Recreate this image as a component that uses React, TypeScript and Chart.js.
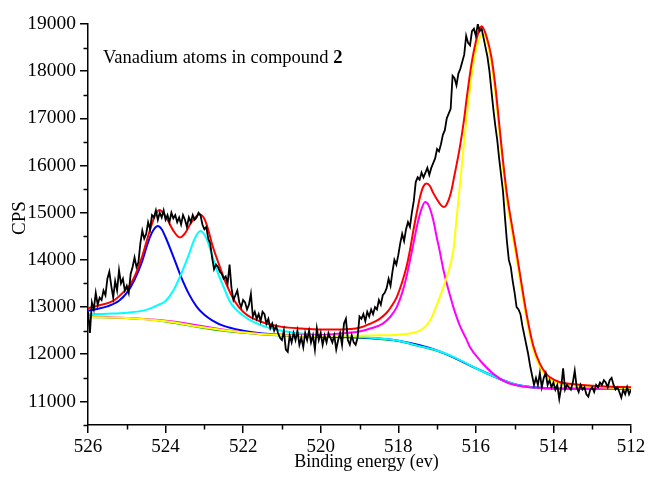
import React, { useEffect, useRef } from "react";
import { Chart, registerables } from "chart.js";

Chart.register(...registerables);

// ---------- axis ----------
const X_MIN = 512;
const X_MAX = 526;
const Y_MIN = 10500;
const Y_MAX = 19000;
const xMajorTicks = [526, 524, 522, 520, 518, 516, 514, 512];
const xMinorTicks = [525, 523, 521, 519, 517, 515, 513];
const yMajorTicks = [11000, 12000, 13000, 14000, 15000, 16000, 17000, 18000, 19000];
const yMinorTicks = [10500, 11500, 12500, 13500, 14500, 15500, 16500, 17500, 18500];
const xTitle = "Binding energy (ev)";
const yTitle = "CPS";
const noteText = "Vanadium atoms in compound ";
const noteBold = "2";

// ---------- measured spectrum (526.00 -> 512.00 eV, 0.05 eV steps) ----------
const measuredStart = 526;
const measuredStep = 0.05;
const measuredCps = [
  // 526.00 - 524.00
  12900, 12450, 13100, 12950, 13300, 13050, 13200, 13150, 13350, 13250,
  13600, 13750, 13450, 13200, 13550, 13350, 13780, 13500, 13600, 13350,
  13450, 13300, 13700, 13850, 14050, 13850, 13950, 14350, 14620, 14450,
  14550, 14800, 14650, 14950, 14900, 15050, 14850, 15000, 14900, 15050,
  14850,
  // 523.95 - 522.00
  14950, 14800, 15000, 14880, 14950, 14800, 14900, 14750, 14950, 14850,
  14700, 14900, 14800, 14950, 14850, 14900, 15000, 14950, 14750, 14650,
  14700, 14450, 14350, 14050, 13800, 13900, 13850, 13750, 13700, 13600,
  13650, 13500, 13900, 13400, 13150, 13250, 13350, 13100, 13000, 13150,
  // 521.95 - 520.00
  13100, 12950, 13050, 13280, 12800, 12900, 12750, 12850, 12700, 12900,
  12850, 12650, 12750, 12550, 12650, 12500, 12600, 12450, 12350, 12300,
  12500, 12100, 12050, 12400, 12250, 12450, 12300, 12500, 12200, 12350,
  12150, 12450, 12300, 12500, 12250, 12400, 12100, 12550, 12300, 12450,
  // 519.95 - 518.00
  12200, 12400, 12250, 12450, 12350, 12250, 12400, 12100, 12300, 12450,
  12200, 12650, 12750, 12300, 12200, 12400, 12250, 12200, 12350, 12800,
  12750, 12850, 12700, 12900, 12800, 12950, 12850, 13000, 12950, 13150,
  13050, 13250, 13300, 13400, 13600, 13450, 13750, 14000, 13900, 14100,
  // 517.95 - 516.00
  14350, 14550, 14400, 14650, 14800, 14700, 15000, 15250, 15650, 15750,
  15700, 15850, 15750, 15850, 15950, 15800, 15950, 16050, 16150, 16350,
  16300, 16450, 16650, 16750, 17000, 17100, 17200, 17900, 17850, 17700,
  17950, 18050, 18200, 18350, 18750, 18600, 18550, 18850, 18900, 18750,
  // 515.95 - 514.00
  19000, 18850, 18900, 18700, 18500, 18300, 18000, 17600, 17200, 16850,
  16550, 16150, 15800, 15450, 14900, 14400, 14000, 13850, 13550, 13300,
  13000, 12950, 12850, 12600, 12400, 12200, 12000, 11750, 11550, 11350,
  11500, 11350, 11600, 11300, 11500, 11600, 11350, 11450, 11300, 11400,
  // 513.95 - 512.00
  11250, 11350, 11050, 11300, 11700, 11250, 11350, 11300, 11250, 11400,
  11650, 11300, 11200, 11350, 11250, 11300, 11150, 11100, 11250, 11300,
  11200, 11350, 11300, 11400, 11350, 11450, 11400, 11300, 11450, 11500,
  11350, 11250, 11300, 11200, 11080, 11250, 11150, 11300, 11150, 11250,
];

// ---------- fitted envelope (red) ----------
const envelopeE = [
  526, 525.7, 525.35, 525.0, 524.9, 524.75, 524.6, 524.5, 524.35, 524.25,
  524.15, 524.05, 523.95, 523.8, 523.63, 523.5, 523.35, 523.2, 523.12, 523.0,
  522.9, 522.8, 522.6, 522.42, 522.2, 522.0, 521.8, 521.4, 521.0, 520.5,
  520.0, 519.5, 519.0, 518.73, 518.5, 518.3, 518.15, 518.04, 517.9, 517.79,
  517.7, 517.61, 517.5, 517.44, 517.35, 517.27, 517.18, 517.1, 517.0, 516.9,
  516.82, 516.75, 516.65, 516.55, 516.41, 516.3, 516.24, 516.15, 516.07, 515.95,
  515.85, 515.72, 515.6, 515.5, 515.4, 515.3, 515.2, 515.08, 514.95, 514.82,
  514.69, 514.52, 514.35, 514.2, 514.09, 513.83, 513.57, 513, 512.5, 512,
];
const envelopeCps = [
  12975, 13040, 13130, 13390, 13490, 13740, 14080, 14360, 14770, 14980,
  15060, 14980, 14850, 14620, 14475, 14560, 14780, 14930, 14960, 14870,
  14640, 14330, 13850, 13460, 13100, 12900, 12780, 12650, 12580, 12545,
  12525, 12525, 12560, 12646, 12740, 12880, 13050, 13211, 13530, 13848,
  14200, 14627, 15100, 15334, 15560, 15618, 15560, 15420, 15280, 15160,
  15120, 15180, 15400, 15800, 16400, 17000, 17400, 17950, 18350, 18780,
  18950, 18720, 18300, 17700, 16900, 16100, 15400, 14780, 14150, 13480,
  12840, 12180, 11800, 11600, 11512, 11406, 11372, 11330, 11310, 11300,
];

// ---------- component V 2p1/2 (blue) ----------
const blueE = [
  526, 525.8, 525.5, 525.2, 525.0, 524.8, 524.6, 524.5, 524.4, 524.3,
  524.2, 524.1, 524.0, 523.8, 523.6, 523.4, 523.2, 523.0, 522.8, 522.5,
  522.0, 521.5, 521.0, 520, 519, 518, 517, 516, 515, 514, 513, 512,
];
const blueCps = [
  12920, 12955, 13015, 13135, 13300, 13580, 13980, 14250, 14490, 14650,
  14718, 14650, 14480, 14070, 13640, 13280, 13010, 12835, 12720, 12600,
  12500, 12440, 12412, 12380, 12358, 12288, 12082, 11705, 11365, 11276, 11267, 11263,
];

// ---------- component (cyan) ----------
const cyanE = [
  526, 525.5, 525, 524.5, 524.2, 524.0, 523.8, 523.6, 523.4, 523.25,
  523.1, 522.95, 522.8, 522.65, 522.5, 522.35, 522.2, 522.0, 521.8, 521.4,
  521.0, 520.5, 520, 519.5, 519, 518.5, 518, 517.5, 517, 516.5,
  516, 515.5, 515, 514.5, 514, 513, 512,
];
const cyanCps = [
  12850, 12860, 12880, 12940, 13040, 13130, 13350, 13700, 14110, 14450,
  14612, 14460, 14100, 13720, 13420, 13130, 12960, 12820, 12710, 12575,
  12500, 12440, 12405, 12385, 12365, 12335, 12288, 12183, 12078, 11913,
  11703, 11518, 11363, 11295, 11275, 11268, 11265,
];

// ---------- component (magenta) ----------
const magentaE = [
  526, 524, 522, 520.5, 520, 519.5, 519, 518.7, 518.4, 518.2,
  518.04, 517.9, 517.79, 517.7, 517.61, 517.5, 517.4, 517.31, 517.22, 517.1,
  517.01, 516.93, 516.84, 516.75, 516.65, 516.58, 516.41, 516.25, 516.15, 515.89,
  515.55, 515.21, 514.78, 514.3, 514, 513, 512,
];
const magentaCps = [
  12805, 12712, 12468, 12400, 12405, 12440, 12480, 12550, 12650, 12800,
  12999, 13300, 13636, 13980, 14344, 14780, 15080, 15227, 15160, 14850,
  14484, 14180, 13800, 13500, 13200, 12999, 12600, 12330, 12149, 11867,
  11584, 11406, 11315, 11285, 11275, 11268, 11265,
];

// ---------- component V 2p3/2 (yellow) ----------
const yellowE = [
  526, 525, 524, 523, 522, 521, 520, 519, 518.5, 518,
  517.7, 517.45, 517.3, 517.18, 517.05, 516.93, 516.75, 516.58, 516.5, 516.41,
  516.32, 516.24, 516.15, 516.07, 515.95, 515.82, 515.7, 515.6, 515.5, 515.4,
  515.3, 515.2, 515.08, 514.95, 514.82, 514.69, 514.52, 514.35, 514.2, 514.09,
  513.83, 513.57, 513, 512.5, 512,
];
const yellowCps = [
  12790, 12770, 12700, 12565, 12460, 12400, 12385, 12390, 12400, 12415,
  12440, 12500, 12590, 12716, 12950, 13211, 13636, 14200, 14850, 15600,
  16350, 17000, 17650, 18130, 18600, 18790, 18580, 18150, 17550, 16750,
  15950, 15250, 14640, 14020, 13360, 12730, 12100, 11730, 11540, 11460,
  11380, 11350, 11310, 11292, 11285,
];

// ---------- background (green) ----------
const backgroundE = [
  526, 525, 524.5, 524, 523.5, 523, 522.5, 522, 521.5, 521,
  520.5, 520, 519.5, 519, 518.5, 518, 517.5, 517, 516.5, 516,
  515.5, 515, 514.5, 514, 513, 512,
];
const backgroundCps = [
  12785, 12765, 12740, 12690, 12622, 12552, 12492, 12448, 12414, 12390,
  12374, 12364, 12356, 12346, 12320, 12276, 12174, 12068, 11904, 11694,
  11510, 11355, 11288, 11270, 11263, 11260,
];

const pts = (xs: number[], ys: number[]) => xs.map((x, i) => ({ x, y: ys[i] }));

const FONT = '"Liberation Serif", "Times New Roman", serif';

const decorPlugin = {
  id: "decor",
  afterDraw(chart: any) {
    const { ctx, chartArea } = chart;
    const x = chart.scales.x;
    const y = chart.scales.y;
    ctx.save();
    ctx.strokeStyle = "#000";
    ctx.lineWidth = 1.5;
    xMinorTicks.forEach((v) => {
      const px = Math.round(x.getPixelForValue(v)) + 0.5;
      ctx.beginPath();
      ctx.moveTo(px, chartArea.bottom);
      ctx.lineTo(px, chartArea.bottom + 4.5);
      ctx.stroke();
    });
    yMinorTicks.forEach((v) => {
      const py = Math.round(y.getPixelForValue(v)) + 0.5;
      ctx.beginPath();
      ctx.moveTo(chartArea.left, py);
      ctx.lineTo(chartArea.left - 4.5, py);
      ctx.stroke();
    });

    ctx.fillStyle = "#000";
    // x axis title
    ctx.font = `18px ${FONT}`;
    ctx.textAlign = "center";
    ctx.textBaseline = "alphabetic";
    ctx.fillText(xTitle, (chartArea.left + chartArea.right) / 2 + 7, 467);

    // y axis title
    ctx.save();
    ctx.translate(25, 218);
    ctx.rotate(-Math.PI / 2);
    ctx.font = `19px ${FONT}`;
    ctx.fillText(yTitle, 0, 0);
    ctx.restore();

    // annotation
    ctx.textAlign = "left";
    ctx.font = `18.5px ${FONT}`;
    const tx = chartArea.left + 15;
    ctx.fillText(noteText, tx, 63);
    const w = ctx.measureText(noteText).width;
    ctx.font = `bold 18.5px ${FONT}`;
    ctx.fillText(noteBold, tx + w, 63);
    ctx.restore();
  },
};

export default function App() {
  const ref = useRef<HTMLCanvasElement>(null);

  useEffect(() => {
    document.body.style.margin = "0";
    const measured = measuredCps.map((v, i) => ({
      x: +(measuredStart - i * measuredStep).toFixed(2),
      y: v,
    }));
    const comp = (data: any, color: string, width = 2) => ({
      data,
      borderColor: color,
      backgroundColor: color,
      borderWidth: width,
      pointRadius: 0,
      fill: false,
      cubicInterpolationMode: "monotone" as const,
    });
    const chart = new Chart(ref.current!, {
      type: "line",
      data: {
        datasets: [
          {
            data: measured,
            borderColor: "#000000",
            backgroundColor: "#000000",
            borderWidth: 1.8,
            pointRadius: 0,
            tension: 0,
            fill: false,
          },
          comp(pts(envelopeE, envelopeCps), "#ff0000"),
          comp(pts(yellowE, yellowCps), "#ffff00"),
          comp(pts(magentaE, magentaCps), "#ff00ff"),
          comp(pts(cyanE, cyanCps), "#00ffff"),
          comp(pts(blueE, blueCps), "#0000ff"),
          comp(pts(backgroundE, backgroundCps), "#00b000", 1.5),
        ],
      },
      options: {
        responsive: false,
        animation: false,
        devicePixelRatio: 1,
        parsing: false as any,
        normalized: true,
        layout: { padding: { left: 0, right: 19, top: 24, bottom: 0 } },
        plugins: {
          legend: { display: false },
          tooltip: { enabled: false },
          title: { display: false },
        },
        scales: {
          x: {
            type: "linear",
            reverse: true,
            min: X_MIN,
            max: X_MAX,
            afterFit: (s: any) => {
              s.height = 53;
            },
            afterBuildTicks: (s: any) => {
              s.ticks = xMajorTicks.map((v) => ({ value: v }));
            },
            ticks: {
              color: "#000",
              font: { family: FONT, size: 19 },
              padding: 3,
              maxRotation: 0,
              autoSkip: false,
              callback: (v: any) => String(v),
            },
            grid: {
              display: true,
              drawOnChartArea: false,
              drawTicks: true,
              tickLength: 8,
              color: "#000",
              lineWidth: 1.5,
            },
            border: { display: true, color: "#000", width: 1.5 },
          },
          y: {
            type: "linear",
            min: Y_MIN,
            max: Y_MAX,
            afterFit: (s: any) => {
              s.width = 88;
            },
            afterBuildTicks: (s: any) => {
              s.ticks = yMajorTicks.map((v) => ({ value: v }));
            },
            ticks: {
              color: "#000",
              font: { family: FONT, size: 19.5 },
              padding: 4,
              autoSkip: false,
              callback: (v: any) => String(v),
            },
            grid: {
              display: true,
              drawOnChartArea: false,
              drawTicks: true,
              tickLength: 8,
              color: "#000",
              lineWidth: 1.5,
            },
            border: { display: true, color: "#000", width: 1.5 },
          },
        },
      },
      plugins: [decorPlugin],
    });
    return () => chart.destroy();
  }, []);

  return (
    <div style={{ position: "absolute", left: 0, top: 0, width: 650, height: 478, background: "#fff" }}>
      <canvas ref={ref} width={650} height={478} style={{ display: "block" }} />
    </div>
  );
}
